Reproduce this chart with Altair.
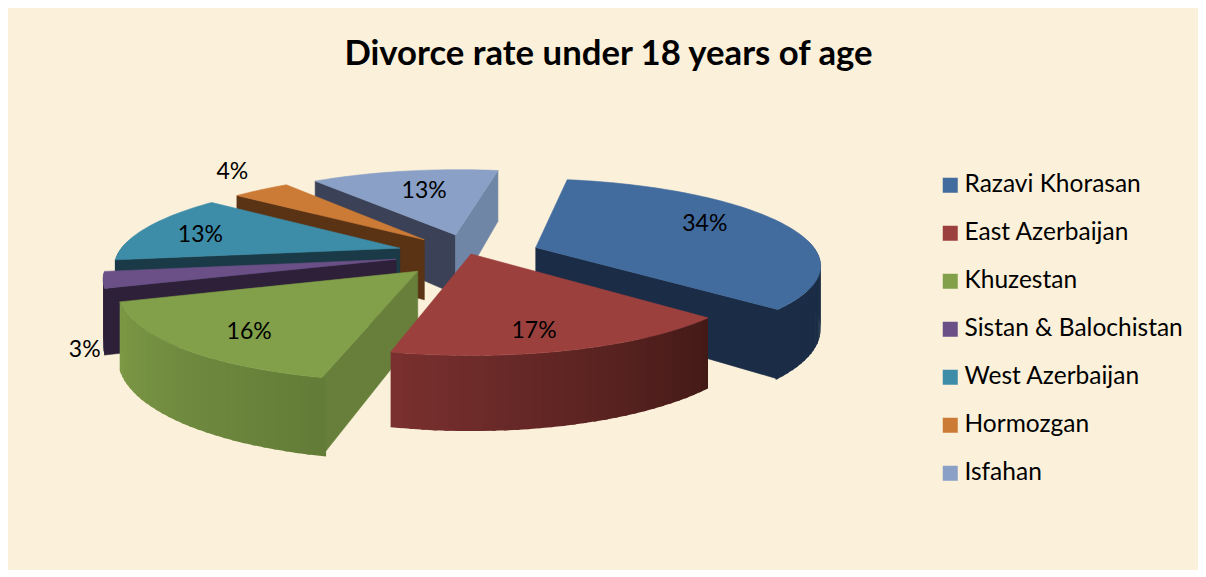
import math
import altair as alt

# ---- values ----
regions = ["Razavi Khorasan", "East Azerbaijan", "Khuzestan", "Sistan & Balochistan",
           "West Azerbaijan", "Hormozgan", "Isfahan"]
shares = [34, 17, 16, 3, 13, 4, 13]
top_colors = ["#426B9E", "#9C403E", "#81A049", "#6A5086", "#3D8DA8", "#CB7B36", "#8AA0C6"]
side_from = ["#1B2D46", "#431A17", "#637C38", "#2D2038", "#1A3A47", "#5A3315", "#3B4257"]
side_to = ["#1B2D46", "#7A302F", "#7D9A46", "#2D2038", "#1A3A47", "#5A3315", "#7086A6"]
wall_start = ["#1B2D46", "#431A17", "#677F3A", "#2D2038", "#1A3A47", "#5A3315", "#3B4257"]
wall_end = ["#1B2D46", "#7A302F", "#7D9A46", "#2D2038", "#1A3A47", "#5A3315", "#7086A6"]
explode = [0.246, 0.0, 0.27, 0.27, 0.265, 0.246, 0.246]
paint_order = [6, 5, 4, 3, 0, 2, 1]
label_radius = [0.70, 0.82, 0.74, 1.06, 0.78, 1.20, 0.65]
label_turn = [-3.5, 3.5, 0, 0, 0, 0, 1.4]
label_drop = [-0.05, 0, 0.09, 1.05, 0.05, -0.17, 0]

# ---- 3-D view of the pie ----
START = 10.0
CX, CY = 463.0, 246.0
KX, KY = 282.0, 83.2
PERSP = 0.18
DEPTH = 62.0


def project(x, y, drop=0.0):
    w = 1 + PERSP * y
    return [CX + KX * x / w, CY - KY * y / w + DEPTH * drop / w]


def polar(a, r=1.0):
    t = math.radians(a)
    return r * math.sin(t), r * math.cos(t)


def mix(c1, c2, f):
    a = [int(c1[i:i + 2], 16) for i in (1, 3, 5)]
    b = [int(c2[i:i + 2], 16) for i in (1, 3, 5)]
    return "#%02X%02X%02X" % tuple(round(p + (q - p) * f) for p, q in zip(a, b))


features = []
keys = list(regions)
ranges = list(top_colors)


def add(ring, key, edge=0.6):
    features.append({"type": "Feature", "properties": {"key": key, "edge": edge},
                     "geometry": {"type": "Polygon", "coordinates": [ring + [ring[0]]]}})
    if key not in keys:
        keys.append(key)
        ranges.append(key)


bounds = []
acc = START
for s in shares:
    bounds.append((acc, acc + s * 3.6))
    acc += s * 3.6
centres = []
for i in range(len(regions)):
    a0, a1 = bounds[i]
    mx, my = polar((a0 + a1) / 2, explode[i])
    centres.append((mx, my))

for i in paint_order:
    a0, a1 = bounds[i]
    mx, my = centres[i]

    def pt(a, drop=0.0, r=1.0):
        dx, dy = polar(a, r)
        return project(mx + dx, my + dy, drop)

    tip = project(mx, my)
    tipb = project(mx, my, 1)
    mid = pt((a0 + a1) / 2)

    # radial walls that face the viewer
    wall_seen = []
    for a, col in ((a0, wall_start[i]), (a1, wall_end[i])):
        e = pt(a)
        ex, ey = e[0] - tip[0], e[1] - tip[1]
        side_mid = ex * (mid[1] - tip[1]) - ey * (mid[0] - tip[0])
        side_down = ex
        seen = side_mid * side_down < 0
        wall_seen.append(seen)
        if seen:
            add([tip, e, pt(a, 1), tipb], col)

    # outer rim, in short shaded strips that overlap a little
    step = 2.0
    n = max(1, int(math.ceil((a1 - a0) / step)))
    for k in range(n):
        b0 = a0 + (a1 - a0) * k / n
        b1 = a0 + (a1 - a0) * (k + 1) / n
        if math.cos(math.radians((b0 + b1) / 2)) > 0.08:
            continue
        lo = b0 - 0.7 if (k == 0 and wall_seen[0]) else b0
        hi = b1 + 0.7 if (k < n - 1 or wall_seen[1]) else b1
        col = mix(side_from[i], side_to[i], (k + 0.5) / n)
        add([pt(lo), pt(hi), pt(hi, 1), pt(lo, 1)], col, 0)

    # top face
    m = max(2, int(math.ceil((a1 - a0) / 1.5)))
    arc = [pt(a0 + (a1 - a0) * k / m) for k in range(m + 1)]
    add([tip] + arc, regions[i])

labels = []
for i in range(len(regions)):
    a0, a1 = bounds[i]
    mx, my = centres[i]
    dx, dy = polar((a0 + a1) / 2 + label_turn[i], label_radius[i])
    lon, lat = project(mx + dx, my + dy, label_drop[i])
    labels.append({"lon": lon, "lat": lat, "text": f"{shares[i]}%"})

proj = dict(type="identity", scale=1, translate=[0, 0])
FONT = "Lato"
scale = alt.Scale(domain=keys, range=ranges)

pie = (
    alt.Chart(alt.Data(values=features))
    .mark_geoshape()
    .encode(
        fill=alt.Fill(
            "properties.key:N",
            scale=scale,
            legend=alt.Legend(
                title=None, values=regions, orient="none", legendX=930, legendY=165,
                symbolType="square", symbolSize=225, symbolStrokeWidth=0,
                labelFont=FONT, labelFontSize=24.5, labelColor="#000000", labelLimit=300,
                labelOffset=2, rowPadding=23,
            ),
        ),
        stroke=alt.Stroke("properties.key:N", scale=scale, legend=None),
        strokeWidth=alt.StrokeWidth("properties.edge:Q", scale=None),
    )
    .project(**proj)
)

text = (
    alt.Chart(alt.Data(values=labels))
    .mark_text(font=FONT, fontSize=23, color="#000000", align="center", baseline="middle")
    .encode(longitude="lon:Q", latitude="lat:Q", text="text:N")
    .project(**proj)
)

chart = (
    alt.layer(pie, text)
    .properties(
        width=1190, height=562, padding=0,
        background="#FBF0D9",
        autosize=alt.AutoSizeParams(type="none"),
        title=alt.TitleParams(
            "Divorce rate under 18 years of age", font=FONT, fontSize=34.7, fontWeight="bold",
            color="#000000", anchor="middle", dx=5.5, dy=69,
        ),
    )
    .configure_view(stroke=None)
)

chart.save("out.html", embed_options={"renderer": "svg", "actions": False})
